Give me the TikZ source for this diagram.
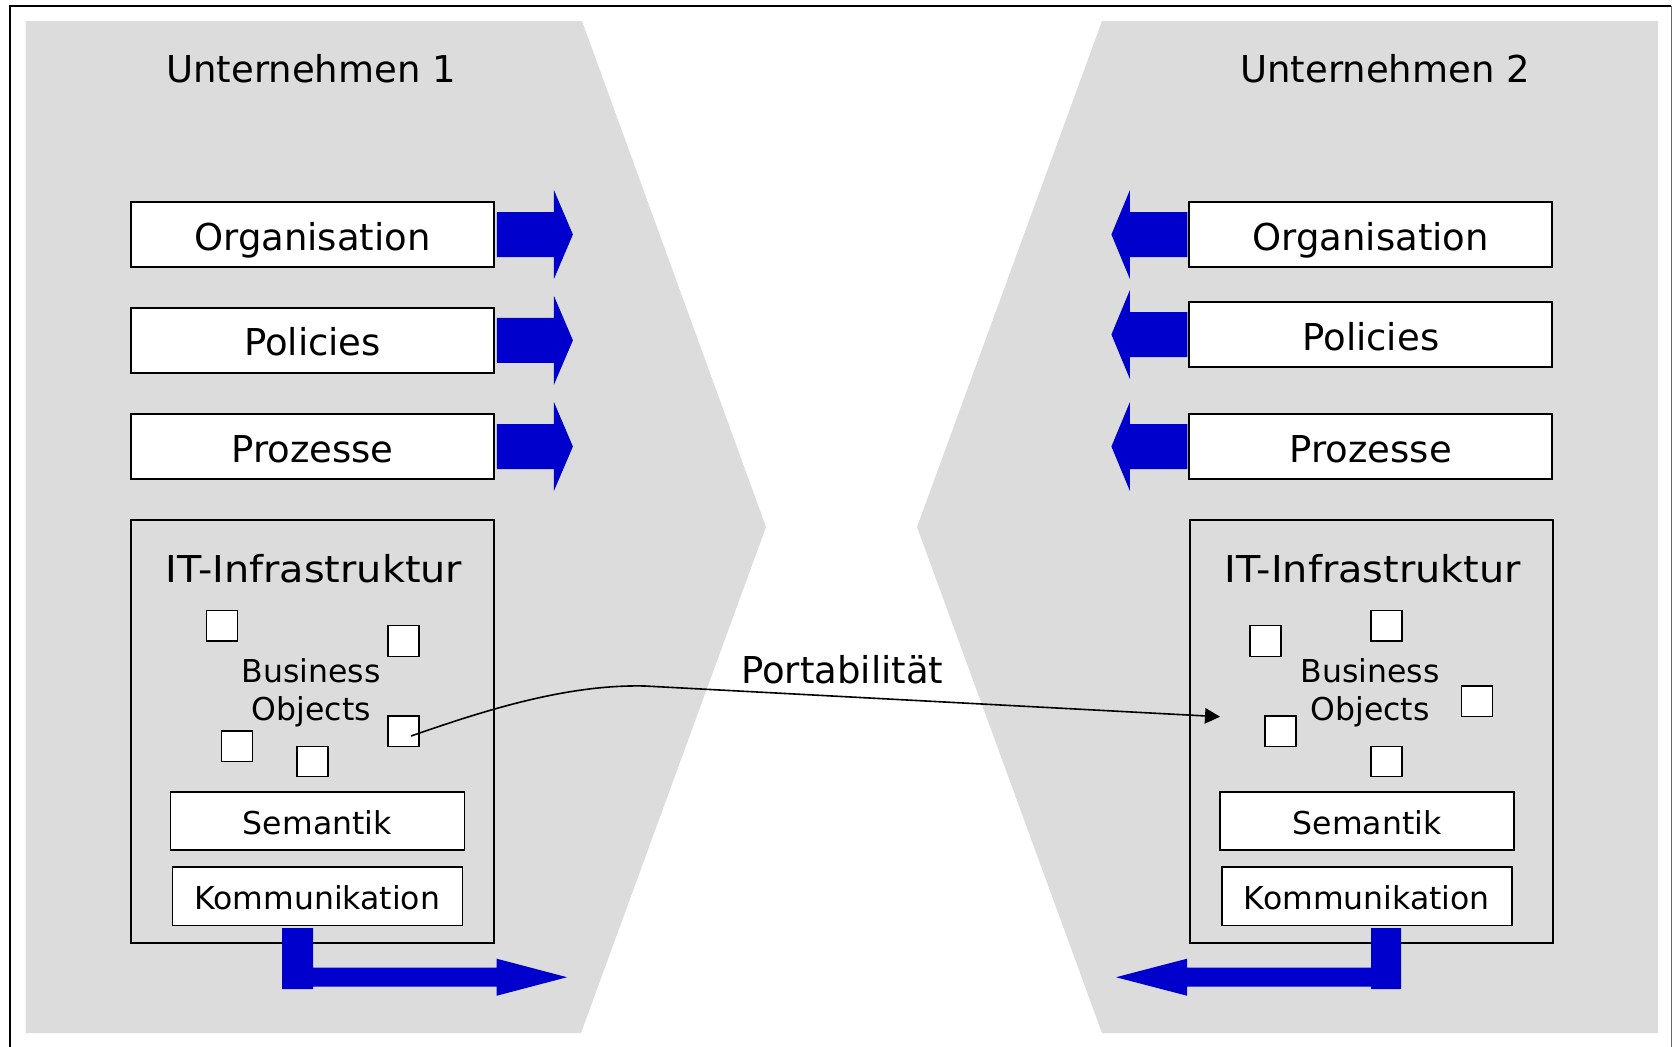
\documentclass[tikz,border=0pt]{standalone}
\usepackage{fontspec}
\setmainfont{DejaVu Sans}
\usetikzlibrary{arrows.meta,calc}
\definecolor{panelgray}{RGB}{220,220,220}
\definecolor{flowblue}{RGB}{0,0,204}
\newlength\pxu
\setlength\pxu{0.5pt}
\tikzset{
  bigfont/.style={font=\fontsize{18.5}{22}\selectfont},
  smallfont/.style={font=\fontsize{15.75}{18.8}\selectfont},
  layerbox/.style={draw=black, line width=0.9pt, fill=white, inner sep=0pt,
    minimum width=363\pxu, minimum height=65\pxu,
    text height=15.5pt, text depth=0pt, bigfont},
  itbox/.style={draw=black, line width=0.8pt, inner sep=0pt,
    minimum width=363\pxu, minimum height=423\pxu},
  subbox/.style={draw=black, line width=0.8pt, fill=white, inner sep=0pt,
    minimum height=58.5\pxu, text height=13.5pt, text depth=0pt, smallfont},
  bosq/.style={draw=black, line width=0.65pt, fill=white, inner sep=0pt,
    minimum width=31\pxu, minimum height=30.5\pxu},
  rowarrowR/.pic={\fill[flowblue] (2,-22.5) -- (59,-22.5) -- (59,-44.5) -- (78,0)
    -- (59,44.5) -- (59,22.5) -- (2,22.5) -- cycle;},
  rowarrowL/.pic={\fill[flowblue] (-1,-22.5) -- (-58.5,-22.5) -- (-58.5,-44.5) -- (-77,0)
    -- (-58.5,44.5) -- (-58.5,22.5) -- (-1,22.5) -- cycle;}
}
\begin{document}
\begin{tikzpicture}[x=0.5pt,y=-0.5pt]
\useasboundingbox (0,0) rectangle (1673,1046);

% company panels
\fill[panelgray] (25.5,21) -- (582,21) -- (766,527) -- (581,1033) -- (25.5,1033) -- cycle;
\fill[panelgray] (1102,21) -- (1658,21) -- (1658,1033) -- (1102,1033) -- (917,527) -- cycle;

% outer frame
\draw[line width=1pt] (9.5,1060) -- (9.5,6) -- (1671,6);
\draw[line width=0.6pt, black!60] (1671.5,6) -- (1671.5,1060);

% titles
\node[bigfont, anchor=base] (u1) at (311,82.7) {Unternehmen 1};
\node[bigfont, anchor=base] (u2) at (1385,82.7) {Unternehmen 2};

% layers, company 1
\node[layerbox] (org1) at (312.5,234.5) {Organisation};
\node[layerbox] (pol1) at (312.5,340.3) {Policies};
\node[layerbox] (pro1) at (312.5,446.5) {Prozesse};

% layers, company 2
\node[layerbox] (org2) at (1370.8,234.5) {Organisation};
\node[layerbox] (pol2) at (1370.8,334.5) {Policies};
\node[layerbox] (pro2) at (1370.8,446.5) {Prozesse};

% exchange arrows of the layers
\pic at (org1.east) {rowarrowR};
\pic at (pol1.east) {rowarrowR};
\pic at (pro1.east) {rowarrowR};
\pic at (org2.west) {rowarrowL};
\pic at (pol2.west) {rowarrowL};
\pic at (pro2.west) {rowarrowL};

% IT infrastructure, company 1
\node[itbox] (it1) at (312.7,731.5) {};
\node[bigfont, anchor=base] (itl1) at (314,582.5) {\scalebox{1.075}[1]{IT-Infrastruktur}};
\node[bosq] (bo1a) at (222.2,625.7) {};
\node[bosq] (bo1b) at (403.5,641) {};
\node[bosq] (bo1c) at (403.5,731.3) {};
\node[bosq] (bo1d) at (237,746.2) {};
\node[bosq] (bo1e) at (312.5,761.4) {};
\node[smallfont, align=center, anchor=base] (bot1) at (311.3,720.4) {Business\\Objects};
\node[subbox, minimum width=294\pxu] (sem1) at (317.3,821) {Semantik};
\node[subbox, minimum width=290\pxu] (kom1) at (317.3,896.2) {Kommunikation};

% IT infrastructure, company 2
\node[itbox] (it2) at (1371.2,731.5) {};
\node[bigfont, anchor=base] (itl2) at (1372.5,582.5) {\scalebox{1.075}[1]{IT-Infrastruktur}};
\node[bosq] (bo2a) at (1265.5,640.9) {};
\node[bosq] (bo2b) at (1386.5,625.7) {};
\node[bosq] (bo2c) at (1477,701.1) {};
\node[bosq] (bo2d) at (1280.5,731.3) {};
\node[bosq] (bo2e) at (1386.5,761.4) {};
\node[smallfont, align=center, anchor=base] (bot2) at (1370,720.4) {Business\\Objects};
\node[subbox, minimum width=294\pxu] (sem2) at (1367,821) {Semantik};
\node[subbox, minimum width=290\pxu] (kom2) at (1366.8,896.2) {Kommunikation};

% communication links
\fill[flowblue] (282,928) -- (313,928) -- (313,967.7) -- (496.7,967.7) -- (496.7,958.7)
  -- (567,977.2) -- (496.7,995.7) -- (496.7,986.7) -- (313,986.7) -- (313,989)
  -- (282,989) -- cycle;
\fill[flowblue] (1401,928) -- (1371,928) -- (1371,967.7) -- (1187,967.7) -- (1187,958.7)
  -- (1116,977.2) -- (1187,995.7) -- (1187,986.7) -- (1371,986.7) -- (1371,989)
  -- (1401,989) -- cycle;

% portability of business objects
\coordinate (portstart) at ($(bo1c.center)+(7.5,4.7)$);
\coordinate (portbend) at (645,686);
\coordinate (porttip) at (1220,716.7);
\draw[line width=0.8pt, -{Triangle[length=7.5pt,width=7.7pt]}]
  (portstart) .. controls (480,712) and (565,684) .. (portbend) -- (porttip);
\node[bigfont, anchor=base] (portlbl) at (842.3,683) {Portabilität};
\end{tikzpicture}
\end{document}
